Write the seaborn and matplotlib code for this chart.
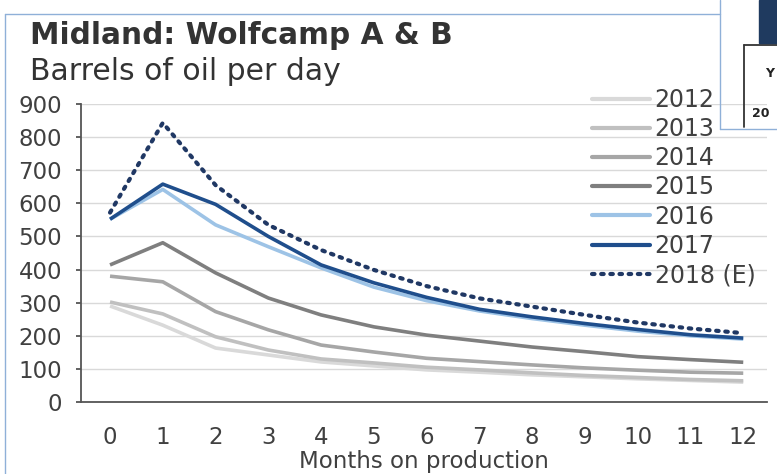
import matplotlib
matplotlib.use("Agg")
import matplotlib.pyplot as plt
import seaborn as sns
import pandas as pd
from matplotlib.lines import Line2D
from matplotlib.patches import Rectangle

months = list(range(13))
y2012 = [290, 232, 163, 142, 121, 109, 97, 90, 82, 76, 70, 65, 60]
y2013 = [302, 266, 197, 157, 130, 118, 105, 97, 88, 80, 74, 68, 64]
y2014 = [380, 363, 273, 218, 172, 151, 132, 122, 112, 103, 96, 90, 87]
y2015 = [414, 481, 390, 314, 263, 227, 202, 184, 166, 152, 137, 128, 120]
y2016 = [552, 642, 535, 469, 405, 347, 306, 275, 252, 232, 214, 200, 190]
y2017 = [552, 658, 597, 500, 414, 360, 316, 280, 257, 237, 219, 203, 193]
y2018 = [572, 843, 655, 535, 459, 399, 350, 313, 288, 263, 240, 222, 208]
labels = ["2012", "2013", "2014", "2015", "2016", "2017", "2018 (E)"]
yticks = [0, 100, 200, 300, 400, 500, 600, 700, 800, 900]

series = [y2012, y2013, y2014, y2015, y2016, y2017, y2018]
colors = ["#d9d9d9", "#c0c0c0", "#a6a6a6", "#7f7f7f", "#9dc3e6", "#1f4e8c", "#203864"]

rows = []
for lab, vals in zip(labels, series):
    for m, v in zip(months, vals):
        rows.append({"month": m, "bpd": v, "year": lab})
df = pd.DataFrame(rows)

sns.set_theme(style="white")
plt.rcParams['font.family'] = ['DejaVu Sans']

fig = plt.figure(figsize=(7.77, 4.74), dpi=100)
ax = fig.add_axes([81 / 777, 1 - 402 / 474, (767 - 81) / 777, (402 - 104) / 474])

palette = dict(zip(labels, colors))
dashes = {l: "" for l in labels}
dashes["2018 (E)"] = (0.6, 1.6)
sns.lineplot(data=df, x="month", y="bpd", hue="year", style="year",
             palette=palette, dashes=dashes, linewidth=2.6, ax=ax, legend=False)
for line in ax.get_lines():
    line.set_solid_capstyle("butt")
ax.get_lines()[-1].set_dash_capstyle("round")
ax.get_lines()[-1].set_linewidth(3.0)

ax.set_xlim(-0.55, 12.45)
ax.set_ylim(0, 900)
ax.set_yticks(yticks)
ax.set_xticks(months)
ax.grid(axis="y", color="#d9d9d9", linewidth=1)
ax.set_axisbelow(True)
for s in ["top", "right"]:
    ax.spines[s].set_visible(False)
for s in ["left", "bottom"]:
    ax.spines[s].set_color("#555555")
    ax.spines[s].set_linewidth(1.3)
ax.tick_params(axis="y", left=True, length=3.6, width=1.3, color="#555555",
               labelsize=16.5, labelcolor="#404040", pad=10)
ax.tick_params(axis="x", bottom=False, labelsize=16.5, labelcolor="#404040", pad=11)
ax.set_xlabel("Months on production", fontsize=16.5, color="#404040", labelpad=1)
ax.set_ylabel("")

handles = []
for lab, c in zip(labels, colors):
    if lab == "2018 (E)":
        handles.append(Line2D([], [], color=c, linewidth=3.0, linestyle=(0, (0.6, 1.6)),
                              dash_capstyle="round"))
    else:
        handles.append(Line2D([], [], color=c, linewidth=3.0))
leg = ax.legend(handles, labels, loc="upper right", bbox_to_anchor=(0.99, 1.07),
                frameon=False, fontsize=17, handlelength=2.45, handletextpad=0.2,
                labelspacing=0.22, borderaxespad=0.0, borderpad=0.2)
for t in leg.get_texts():
    t.set_color("#404040")

fig.text(30 / 777, 1 - 44 / 474, "Midland: Wolfcamp A & B", fontsize=21.3,
         fontweight="bold", color="#333333", ha="left", va="baseline")
fig.text(30 / 777, 1 - 80 / 474, "Barrels of oil per day", fontsize=21.5,
         color="#333333", ha="left", va="baseline")

# screenshot frame artifacts
def px_line(x0, y0, x1, y1, color, lw=1.0):
    fig.add_artist(Line2D([x0 / 777, x1 / 777], [1 - y0 / 474, 1 - y1 / 474],
                          color=color, linewidth=lw, transform=fig.transFigure))

frame = "#8fb0d8"
px_line(5, 14, 720, 14, frame)
px_line(5, 14, 5, 474, frame)
px_line(720, 0, 720, 129, frame)
px_line(720, 129, 777, 129, frame)
fig.add_artist(Rectangle((759 / 777, 1 - 43 / 474), 18 / 777, 43 / 474,
                         transform=fig.transFigure, color="#1f3a5f", zorder=5))
px_line(744, 45, 777, 45, "#333333", 1.3)
px_line(744, 45, 744, 127, "#333333", 1.3)
fig.text(765 / 777, 1 - 77 / 474, "Y", fontsize=9, fontweight="bold", color="#222222")
fig.text(752 / 777, 1 - 117 / 474, "20", fontsize=9, fontweight="bold", color="#222222")

fig.savefig("out.png", dpi=100)
